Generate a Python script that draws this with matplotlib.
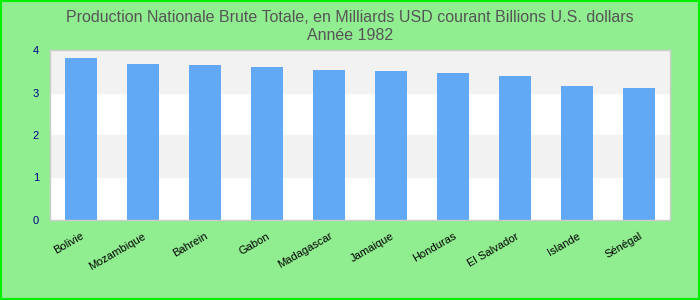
import matplotlib.pyplot as plt
from matplotlib.patches import Rectangle

countries = ['Bolivie', 'Mozambique', 'Bahrein', 'Gabon', 'Madagascar',
             'Jamaique', 'Honduras', 'El Salvador', 'Islande', 'Sénégal']
values = [3.81, 3.67, 3.65, 3.60, 3.53, 3.51, 3.46, 3.39, 3.15, 3.10]
yticks = [0, 1, 2, 3, 4]

plt.rcParams['font.family'] = ['Liberation Sans', 'DejaVu Sans']

fig = plt.figure(figsize=(7, 3), dpi=100, facecolor='#90ee90')
ax = fig.add_axes([0.0714, 0.267, 0.886, 0.566])
ax.set_facecolor('white')

# alternating bands
for i in range(len(yticks) - 1):
    if i % 2 == 1:
        ax.axhspan(yticks[i], yticks[i + 1], color='#f2f2f2', zorder=0)

x = range(len(countries))
ax.bar(x, values, width=0.52, color='#61a9f4', zorder=2)

ax.set_xlim(-0.5, len(countries) - 0.5)
ax.set_ylim(0, 4)
ax.set_yticks(yticks)
ax.set_xticks(list(x))
ax.set_xticklabels(countries, rotation=30, ha='right', rotation_mode='anchor', fontsize=8)
ax.tick_params(axis='both', length=0)
ax.tick_params(axis='y', labelcolor='#00008b', labelsize=8, pad=8)
ax.tick_params(axis='x', pad=8)
for s in ax.spines.values():
    s.set_color('#cccccc')
    s.set_linewidth(1)

fig.text(0.5, 0.942, 'Production Nationale Brute Totale, en Milliards USD courant Billions U.S. dollars',
         ha='center', va='center', fontsize=11.5, color='#555555')
fig.text(0.5, 0.882, 'Année 1982', ha='center', va='center', fontsize=11.5, color='#555555')

fig.patches.append(Rectangle((0.001, 0.002), 0.997, 0.995, transform=fig.transFigure,
                             fill=False, edgecolor='#00ee00', linewidth=1.5))

fig.savefig('out.png', facecolor=fig.get_facecolor())
